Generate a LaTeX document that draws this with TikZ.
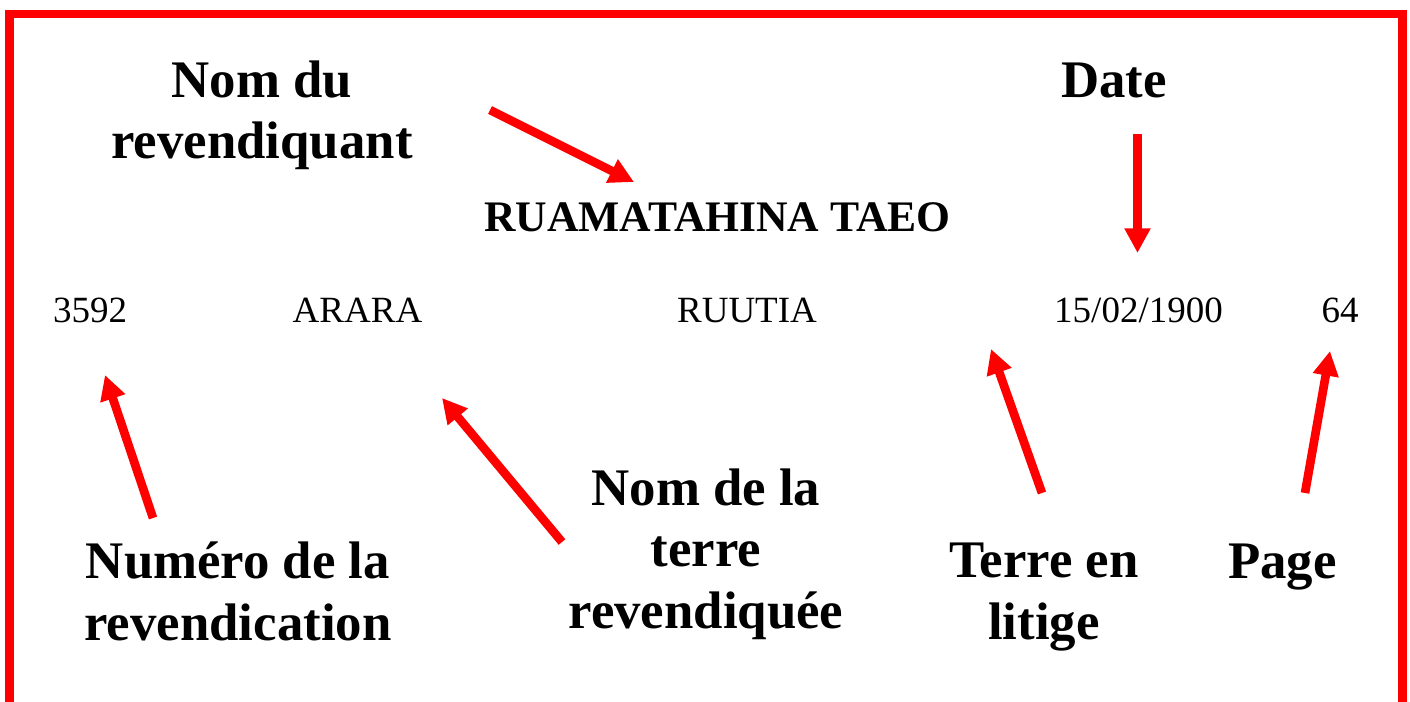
\documentclass[tikz,border=0pt]{standalone}
\usepackage{fontspec}
\setmainfont{Liberation Serif}
\usetikzlibrary{arrows.meta}
\definecolor{bordred}{RGB}{255,0,0}
\begin{document}
\begin{tikzpicture}[x=0.75pt,y=-0.75pt,
  lbl/.style={font=\fontsize{39.6pt}{46pt}\selectfont\bfseries, align=center, inner sep=0pt, anchor=base},
  val/.style={font=\fontsize{27.75pt}{32pt}\selectfont, inner sep=0pt, anchor=base},
  claimant/.style={font=\fontsize{32.7pt}{37pt}\selectfont\bfseries, inner sep=0pt, anchor=base},
  arr/.style={draw=bordred, line width=6.5pt, -{Triangle[length=18.5pt,width=18.5pt]}},
  frame/.style={draw=bordred, line width=6.2pt}
]
\useasboundingbox (0,0) rectangle (1410,702);
\begin{scope}
\clip (0,0) rectangle (1410,702);
\draw[frame] (9.5,760) -- (9.5,14) -- (1402.5,14) -- (1402.5,760);
\end{scope}

% labels (anchor = baseline of last line)
\node[lbl] (nomrev) at (262,159) {Nom du\\revendiquant};
\node[lbl] (date) at (1114,98) {Date};
\node[lbl] (numrev) at (238,640) {Numéro de la\\revendication};
\node[lbl] (terrerev) at (706,628) {Nom de la\\terre\\revendiquée};
\node[lbl] (litige) at (1044,639) {Terre en\\litige};
\node[lbl] (page) at (1282.5,578) {Page};

% record
\node[claimant] (claimant) at (717.5,232) {RUAMATAHINA TAEO};
\node[val] (num) at (90,323) {3592};
\node[val] (terre) at (357.5,323) {ARARA};
\node[val] (lit) at (747,323) {RUUTIA};
\node[val] (dt) at (1138.5,323) {15/02/1900};
\node[val] (pg) at (1340,323) {64};

% arrow ends
\coordinate (a1s) at (490,110);  \coordinate (a1e) at (634,182);
\coordinate (a2s) at (1137.5,134); \coordinate (a2e) at (1137.5,253);
\coordinate (a3s) at (153,518);  \coordinate (a3e) at (105,375);
\coordinate (a4s) at (562,542);  \coordinate (a4e) at (442,398);
\coordinate (a5s) at (1042,493); \coordinate (a5e) at (991,349);
\coordinate (a6s) at (1305,493); \coordinate (a6e) at (1330,351);

\draw[arr] (a1s) -- (a1e);
\draw[arr] (a2s) -- (a2e);
\draw[arr] (a3s) -- (a3e);
\draw[arr] (a4s) -- (a4e);
\draw[arr] (a5s) -- (a5e);
\draw[arr] (a6s) -- (a6e);
\end{tikzpicture}
\end{document}
